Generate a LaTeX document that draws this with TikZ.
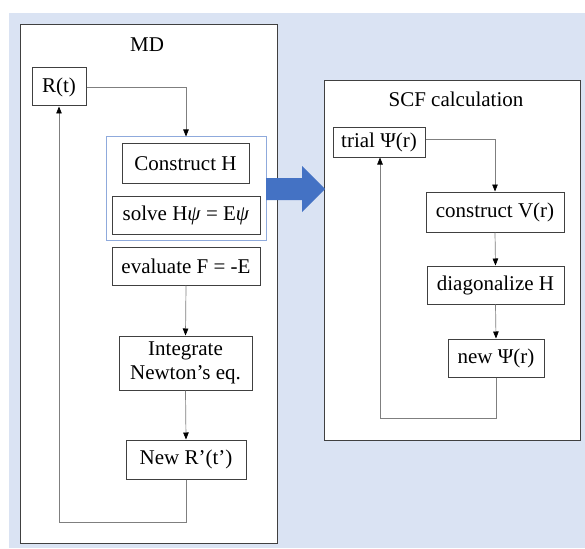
\documentclass[tikz,border=0pt]{standalone}
\usepackage{fontspec}
\setmainfont{Liberation Serif}
\usetikzlibrary{arrows.meta,positioning}
\definecolor{bgblue}{HTML}{DAE3F3}
\definecolor{arrblue}{HTML}{4472C4}
\definecolor{frameblue}{HTML}{8FAADC}
\definecolor{boxgray}{HTML}{404040}
\definecolor{linegray}{HTML}{7F7F7F}
\tikzset{
  stepbox/.style={draw=boxgray, line width=1pt, fill=white, inner sep=0pt, font=\fontsize{21}{23}\selectfont, align=center},
  panel/.style={draw=boxgray, line width=1pt, fill=white},
  conn/.style={draw=linegray, line width=0.7pt, -{Triangle[length=7pt,width=5.5pt,black]}},
  titletext/.style={font=\fontsize{21}{23}\selectfont}
}
\begin{document}
\begin{tikzpicture}[x=1pt,y=-1pt]
\useasboundingbox (0,0) rectangle (585,548);
\fill[white] (0,0) rectangle (585,548);
\fill[bgblue] (9,13) rectangle (585,548);
% panels
\draw[panel] (20.7,25) rectangle (277,543);
\draw[panel] (324,81) rectangle (580,440);
\node[titletext] (mdtitle) at (147,45) {MD};
\node[titletext] (scftitle) at (456,99) {SCF calculation};
% MD nodes
\node[stepbox, minimum width=54pt, minimum height=38pt] (rt) at (59,87) {R(t)};
\node[draw=frameblue, line width=1pt, fill=white, minimum width=160pt, minimum height=103pt, inner sep=0pt] (blue) at (186,188.5) {};
\node[stepbox, minimum width=127pt, minimum height=39pt] (ch) at (185.5,163.5) {Construct H};
\node[stepbox, minimum width=148pt, minimum height=38pt] (solve) at (186,215) {solve H\textit{ψ} = E\textit{ψ}};
\node[stepbox, minimum width=148pt, minimum height=38pt] (eval) at (186,266) {evaluate F = -E};
\node[stepbox, minimum width=133pt, minimum height=54pt, font=\fontsize{21}{24}\selectfont] (integ) at (185.5,363) {Integrate\\Newton’s eq.};
\node[stepbox, minimum width=120pt, minimum height=39pt] (newr) at (186,459.5) {New R’(t’)};
% SCF nodes
\node[stepbox, minimum width=92pt, minimum height=29pt] (trial) at (379,142.5) {trial Ψ(r)};
\node[stepbox, minimum width=138pt, minimum height=40pt] (cv) at (495,212) {construct V(r)};
\node[stepbox, minimum width=137pt, minimum height=38pt] (diag) at (495.5,285) {diagonalize H};
\node[stepbox, minimum width=96pt, minimum height=38pt] (newpsi) at (496,358) {new Ψ(r)};
% MD connectors
\coordinate (mdlow) at (59,522);
\draw[conn] (rt.east) -| (blue.north);
\draw[conn] (eval.south) -- (integ.north);
\draw[conn] (integ.south) -- (newr.north);
\draw[conn] (newr.south) |- (mdlow) -- (rt.south);
% SCF connectors
\coordinate (scflow) at (380,418);
\draw[conn] ([yshift=3pt]trial.east) -| (cv.north);
\draw[conn] (cv.south) -- (diag.north);
\draw[conn] (diag.south) -- (newpsi.north);
\draw[conn] (newpsi.south) |- (scflow) -- ([xshift=1pt]trial.south);
% big arrow
\fill[arrblue] (266,178) -- (302,178) -- (302,166) -- (325,189) -- (302,212) -- (302,200) -- (266,200) -- cycle;
\end{tikzpicture}
\end{document}
